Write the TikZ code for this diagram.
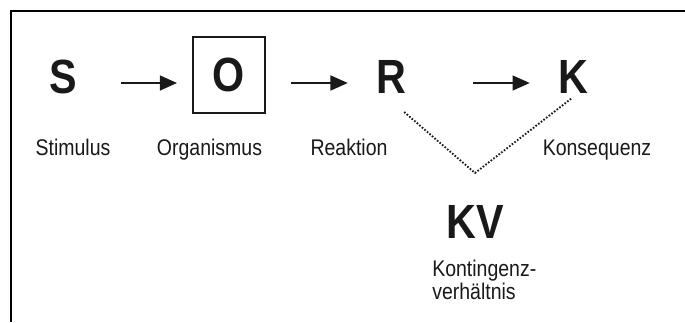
\documentclass[tikz,border=0pt]{standalone}
\usepackage{fontspec}
\usepackage{tikz}
\usetikzlibrary{arrows.meta, positioning}
\newfontfamily\figfont[FakeStretch=0.86]{Liberation Sans}
\definecolor{ink}{RGB}{25,25,25}

\tikzset{
	bigltr/.style={font=\figfont\bfseries\fontsize{36}{40}\selectfont, text=ink, inner sep=0pt, anchor=base},
	wordlbl/.style={font=\figfont\fontsize{17}{17}\selectfont, text=ink, inner sep=0pt, anchor=base},
	arr/.style={line width=2pt, draw=ink, -{Triangle[length=13pt,width=11pt]}},
	dotline/.style={line width=1.4pt, draw=ink, dash pattern=on 1.2pt off 1.3pt}
}

\begin{document}
\begin{tikzpicture}[x=0.75pt,y=0.75pt,yscale=-1,xscale=1]
		\useasboundingbox (0,0) rectangle (685,322);

		%Frame
		\draw [line width=2pt] (11,322) -- (11,11) -- (685,11) ;

		% Letters
		\node [bigltr] (S) at (63.5,93) {S};
		\node [bigltr, anchor=center, draw=ink, line width=1.3pt, minimum width=54pt, minimum height=57pt] (O) at (229,75) {O};
		\node [bigltr] (R) at (391,93) {R};
		\node [bigltr] (K) at (573,93) {K};
		\node [bigltr] (KV) at (475,238) {KV};

		% Text Nodes
		\node [wordlbl] (stim) at (73,155) {Stimulus};
		\node [wordlbl] (org) at (209.5,155) {Organismus};
		\node [wordlbl] (reak) at (349,155) {Reaktion};
		\node [wordlbl] (kons) at (597,155) {Konsequenz};
		\node [wordlbl, anchor=north west, align=left] (kontv) at (432,260) {Kontingenz-\\verhältnis};

		%Arrows
		\draw [arr] ([shift={(43,-10)}]S.base east) -- ([shift={(-15,8)}]O.west) ;
		\draw [arr] ([shift={(25,8)}]O.east) -- ([shift={(-28,-10)}]R.base west) ;
		\draw [arr] ([shift={(67,-10)}]R.base east) -- ([shift={(-28,-10)}]K.base west) ;

		%Dotted V
		\coordinate (apex) at (475,173);
		\draw [dotline] ([shift={(-2,19)}]R.base east) -- (apex) -- ([shift={(-1,5)}]K.base) ;

	\end{tikzpicture}
\end{document}
